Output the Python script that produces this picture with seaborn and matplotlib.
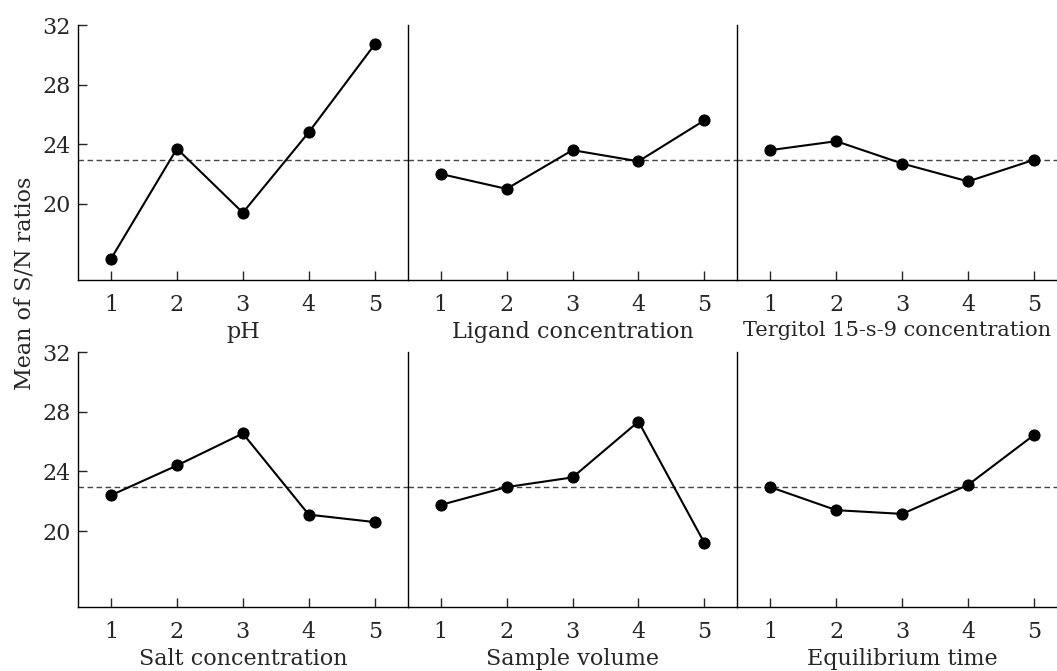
#!/usr/bin/env python3
'''
Main effects plot of the mean S/N ratios for six factors (5 levels each).
'''
import seaborn as sns
import matplotlib.pyplot as plt
import pandas as pd

# factor names, in panel order
factors = ['pH', 'Ligand concentration', 'Tergitol 15-s-9 concentration',
           'Salt concentration', 'Sample volume', 'Equilibrium time']
levels = [1, 2, 3, 4, 5]

# mean S/N ratio per level
ph = [16.3, 23.7, 19.4, 24.8, 30.7]
ligand = [22.0, 21.0, 23.6, 22.85, 25.6]
tergitol = [23.6, 24.2, 22.7, 21.5, 22.95]
salt = [22.4, 24.4, 26.55, 21.1, 20.6]
sample_volume = [21.75, 22.95, 23.6, 27.35, 19.2]
equilibrium = [22.95, 21.4, 21.15, 23.1, 26.45]

grand_mean = 22.97
y_ticks = [20, 24, 28, 32]

series = [ph, ligand, tergitol, salt, sample_volume, equilibrium]
rows = []
for name, vals in zip(factors, series):
    for lvl, v in zip(levels, vals):
        rows.append({'factor': name, 'level': lvl, 'sn': v})
df = pd.DataFrame(rows)

sns.set_style('ticks')
plt.rcParams['font.family'] = ['DejaVu Serif']
plt.rcParams['font.size'] = 16

fig, axes = plt.subplots(2, 3, figsize=(10.57, 6.71), dpi=100, sharey=True)
fig.subplots_adjust(left=0.0738, right=1.0095, top=0.9627, bottom=0.0954,
                    wspace=0, hspace=0.285)

for i, (ax, name) in enumerate(zip(axes.flat, factors)):
    sub = df[df['factor'] == name]
    sns.lineplot(data=sub, x='level', y='sn', ax=ax, color='black',
                 marker='o', markersize=8, markeredgecolor='black',
                 linewidth=1.5)
    ax.axhline(grand_mean, color='#444444', linestyle='--', linewidth=1,
               dashes=(4, 2.5), zorder=0)
    ax.set_xlim(0.5, 5.5)
    ax.set_ylim(14.9, 32)
    ax.set_xticks(levels)
    ax.set_yticks(y_ticks)
    # the long label would run off the right edge at full size
    fs = 15 if len(name) > 25 else 16
    ax.set_xlabel(name, labelpad=4, fontsize=fs)
    if len(name) > 25:
        ax.xaxis.label.set_x(0.485)
    ax.set_ylabel('')
    sns.despine(ax=ax)
    ax.tick_params(axis='x', direction='in', length=6.5, width=1, pad=10)
    ax.tick_params(axis='y', direction='in', length=6.5, width=1, pad=5)
    if i % 3 != 0:
        ax.tick_params(axis='y', left=False, labelleft=False)
    for side in ['left', 'bottom']:
        ax.spines[side].set_linewidth(1)
        ax.spines[side].set_color('black')

fig.text(0.023, 0.5775, 'Mean of S/N ratios', rotation=90,
         ha='center', va='center', fontsize=16)

fig.savefig('out.png', dpi=100)
